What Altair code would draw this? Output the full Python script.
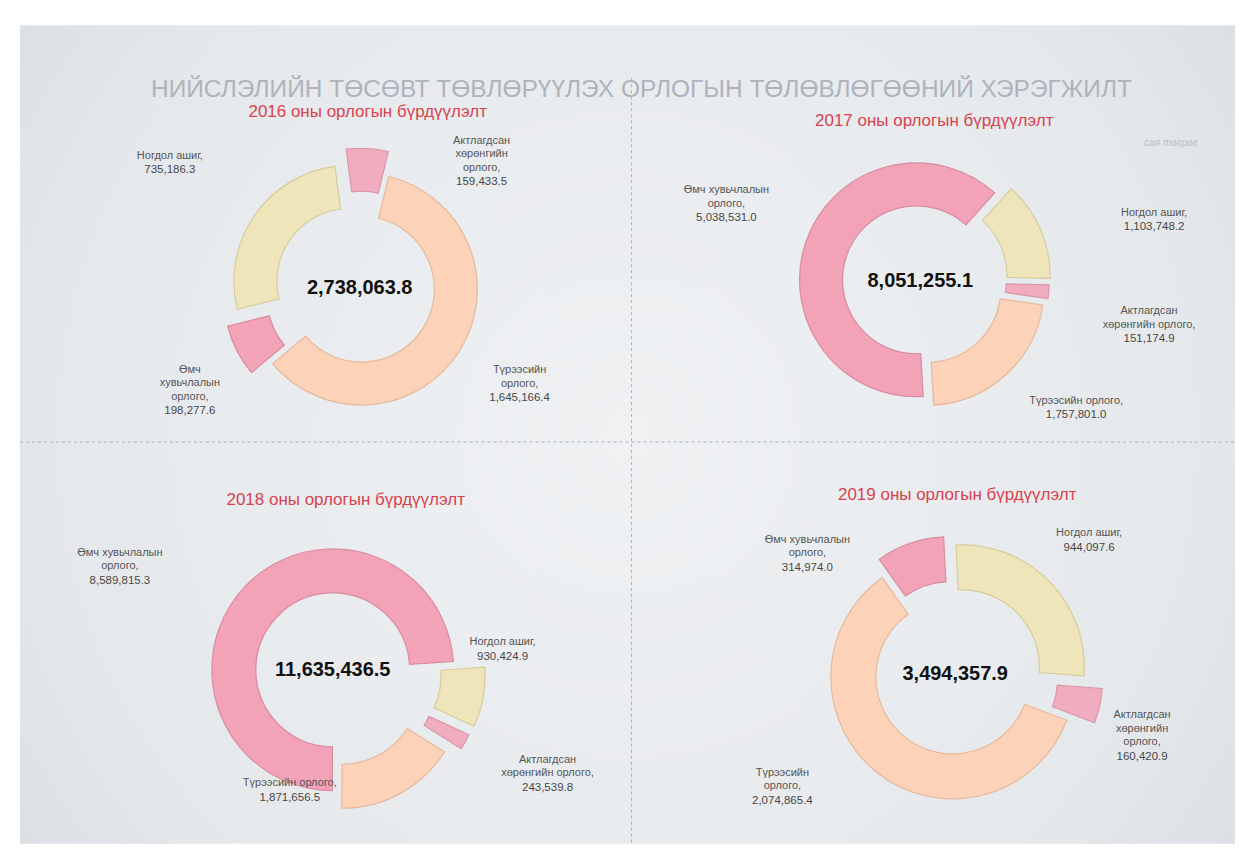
import math
import altair as alt
import pandas as pd

# ---------------- data ----------------
YEARS = [2016, 2017, 2018, 2019]
CATEGORIES = ["Ногдол ашиг", "Актлагдсан хөрөнгийн орлого", "Түрээсийн орлого", "Өмч хувьчлалын орлого"]
NOGDOL_ASHIG = [735186.3, 1103748.2, 930424.9, 944097.6]
AKTLAGDSAN = [159433.5, 151174.9, 243539.8, 160420.9]
TUREESIIN = [1645166.4, 1757801.0, 1871656.5, 2074865.4]
OMCH_HUVCHLAL = [198277.6, 5038531.0, 8589815.3, 314974.0]

LABEL_NAMES = {
    2016: ["Ногдол ашиг,", "Актлагдсан\nхөрөнгийн\nорлого,", "Түрээсийн\nорлого,", "Өмч\nхувьчлалын\nорлого,"],
    2017: ["Ногдол ашиг,", "Актлагдсан\nхөрөнгийн орлого,", "Түрээсийн орлого,", "Өмч хувьчлалын\nорлого,"],
    2018: ["Ногдол ашиг,", "Актлагдсан\nхөрөнгийн орлого,", "Түрээсийн орлого,", "Өмч хувьчлалын\nорлого,"],
    2019: ["Ногдол ашиг,", "Актлагдсан\nхөрөнгийн\nорлого,", "Түрээсийн\nорлого,", "Өмч хувьчлалын\nорлого,"],
}
PANEL_TITLES = [
    "2016 оны орлогын  бүрдүүлэлт",
    "2017 оны орлогын  бүрдүүлэлт",
    "2018 оны орлогын  бүрдүүлэлт",
    "2019 оны орлогын бүрдүүлэлт",
]
MAIN_TITLE = "НИЙСЛЭЛИЙН ТӨСӨВТ ТӨВЛӨРҮҮЛЭХ ОРЛОГЫН ТӨЛӨВЛӨГӨӨНИЙ ХЭРЭГЖИЛТ"
UNIT_TEXT = "сая төгрөг"

# ---------------- layout / style (page pixel units) ----------------
LAYOUT = {
    2016: dict(cx=360, cy=288, R=116, r=73, start=256, explode=[12, 24, 2, 22],
               labels=[(-190, -125), (122, -113), (160, 103), (-170, 116)], title=(368, 112)),
    2017: dict(cx=921, cy=281, R=117, r=74, start=42, explode=[14, 12, 10, 4],
               labels=[(234, -61), (229, 51), (156, 127), (-194, -70)], title=(935, 121)),
    2018: dict(cx=333, cy=670, R=121, r=77, start=86, explode=[32, 30, 20, 0],
               labels=[(170, -20), (215, 111), (-43, 121), (-213, -96)], title=(346, 500)),
    2019: dict(cx=956, cy=674, R=122, r=77, start=357, explode=[10, 26, 4, 16],
               labels=[(134, -133), (187, 76), (-173, 120), (-148, -113)], title=(958, 495)),
}
FILL = ["#eee5bb", "#f0adc0", "#fcd3b8", "#f2a3b8"]
EDGE = ["#d6cc9b", "#d996a9", "#e6b89a", "#d98ca1"]
LABEL_FONT = "Liberation Sans"
LINE_H = 13.5

PAGE_W, PAGE_H = 1244, 852
M = 8

series = [NOGDOL_ASHIG, AKTLAGDSAN, TUREESIIN, OMCH_HUVCHLAL]
rows = []
for yi, yr in enumerate(YEARS):
    L = LAYOUT[yr]
    for ci, cat in enumerate(CATEGORIES):
        name = LABEL_NAMES[yr][ci]
        nlines = name.count("\n") + 1
        lx = L["cx"] + L["labels"][ci][0]
        ly = L["cy"] + L["labels"][ci][1]
        rows.append(dict(
            year=yr, cat=cat, order=ci, value=series[ci][yi], name=name,
            cx=L["cx"], cy=L["cy"], start=L["start"] / 360.0,
            explode=L["explode"][ci],
            lx=lx, ly=ly, ny=ly - nlines * LINE_H,
        ))
df = pd.DataFrame(rows)

xs = alt.Scale(domain=[M, PAGE_W - M], nice=False, zero=False)
ys = alt.Scale(domain=[M, PAGE_H - M], nice=False, zero=False, reverse=True)
ts = alt.Scale(domain=[0, 1], range=[0, 2 * math.pi])
color = alt.Color("cat:N", scale=alt.Scale(domain=CATEGORIES, range=FILL), legend=None)
stroke = alt.Stroke("cat:N", scale=alt.Scale(domain=CATEGORIES, range=EDGE), legend=None)

base = alt.Chart(df)
layers = []

# background slide
deco = alt.Chart(pd.DataFrame({"k": [0]}))
bg = deco.mark_rect(
    fill=alt.RadialGradient(
        gradient="radial",
        stops=[alt.GradientStop(offset=0, color="#eff1f3"),
               alt.GradientStop(offset=0.6, color="#e6e9ec"),
               alt.GradientStop(offset=1, color="#d3d8de")],
        x1=0.5, y1=0.5, r1=0, x2=0.5, y2=0.5, r2=0.75,
    )
).encode(x=alt.value(12), x2=alt.value(PAGE_W - 2 * M), y=alt.value(17), y2=alt.value(PAGE_H - 2 * M))
layers.append(bg)

# dashed dividers
vrule = deco.mark_rule(color="#aeb3b9", strokeDash=[3, 3], strokeWidth=1).encode(
    x=alt.value(632 - M), y=alt.value(78 - M), y2=alt.value(PAGE_H - 2 * M))
hrule = deco.mark_rule(color="#aeb3b9", strokeDash=[3, 3], strokeWidth=1).encode(
    x=alt.value(12), x2=alt.value(PAGE_W - 2 * M), y=alt.value(442 - M))
layers += [vrule, hrule]

# donuts
for yr in YEARS:
    L = LAYOUT[yr]
    yd = (base.transform_filter(alt.datum.year == yr)
          .transform_joinaggregate(total="sum(value)")
          .transform_window(cum="sum(value)", sort=[alt.SortField("order")], frame=[None, 0])
          .transform_calculate(
              f0="(datum.cum - datum.value) / datum.total",
              f1="datum.cum / datum.total")
          .transform_calculate(
              t0="datum.f0 + datum.start",
              t1="datum.f1 + datum.start",
              mid="2 * PI * (datum.start + (datum.f0 + datum.f1) / 2)")
          .transform_calculate(
              ax="datum.cx + datum.explode * sin(datum.mid)",
              ay="datum.cy - datum.explode * cos(datum.mid)"))
    arcs = yd.mark_arc(outerRadius=L["R"], innerRadius=L["r"], strokeWidth=1.2).encode(
        x=alt.X("ax:Q", scale=xs, axis=None),
        y=alt.Y("ay:Q", scale=ys, axis=None),
        theta=alt.Theta("t0:Q", scale=ts),
        theta2="t1:Q",
        color=color,
        stroke=stroke,
    )
    layers.append(arcs)

# slice labels: name lines above, value below
names = base.mark_text(lineBreak="\n", align="center", baseline="top", fontSize=11,
                       lineHeight=LINE_H, font=LABEL_FONT, color="#555555").encode(
    x=alt.X("lx:Q", scale=xs, axis=None), y=alt.Y("ny:Q", scale=ys, axis=None), text="name:N")
vals = base.mark_text(align="center", baseline="top", dy=1, fontSize=11.5, font=LABEL_FONT,
                      color="#474747").encode(
    x=alt.X("lx:Q", scale=xs, axis=None), y=alt.Y("ly:Q", scale=ys, axis=None),
    text=alt.Text("value:Q", format=",.1f"))
layers += [names, vals]

# center totals
totals = base.transform_aggregate(total="sum(value)", groupby=["year", "cx", "cy"]).mark_text(
    align="center", baseline="middle", fontSize=20, fontWeight="bold", font=LABEL_FONT,
    color="#111111").encode(
    x=alt.X("cx:Q", scale=xs, axis=None), y=alt.Y("cy:Q", scale=ys, axis=None),
    text=alt.Text("total:Q", format=",.1f"))
layers.append(totals)

# panel titles
tdf = pd.DataFrame({"title": PANEL_TITLES,
                    "tx": [LAYOUT[y]["title"][0] for y in YEARS],
                    "ty": [LAYOUT[y]["title"][1] for y in YEARS]})
ptitles = alt.Chart(tdf).mark_text(align="center", baseline="middle", fontSize=17,
                                   font=LABEL_FONT, color="#d8424e").encode(
    x=alt.X("tx:Q", scale=xs, axis=None), y=alt.Y("ty:Q", scale=ys, axis=None), text="title:N")
layers.append(ptitles)

# main title and unit note
main = deco.mark_text(align="center", baseline="middle", fontSize=24.5, font=LABEL_FONT,
                      color="#aeb4bb", text=MAIN_TITLE).encode(
    x=alt.value(642 - M), y=alt.value(90 - M))
unit = deco.mark_text(align="center", baseline="middle", fontSize=10, font=LABEL_FONT,
                      fontStyle="italic", color="#b9bec5", text=UNIT_TEXT).encode(
    x=alt.value(1172 - M), y=alt.value(143 - M))
layers += [main, unit]

chart = alt.layer(*layers).properties(
    width=PAGE_W - 2 * M, height=PAGE_H - 2 * M, padding=0, background="white"
).configure_view(strokeWidth=0)

chart.save("out.html", embed_options={"renderer": "svg", "actions": False})
